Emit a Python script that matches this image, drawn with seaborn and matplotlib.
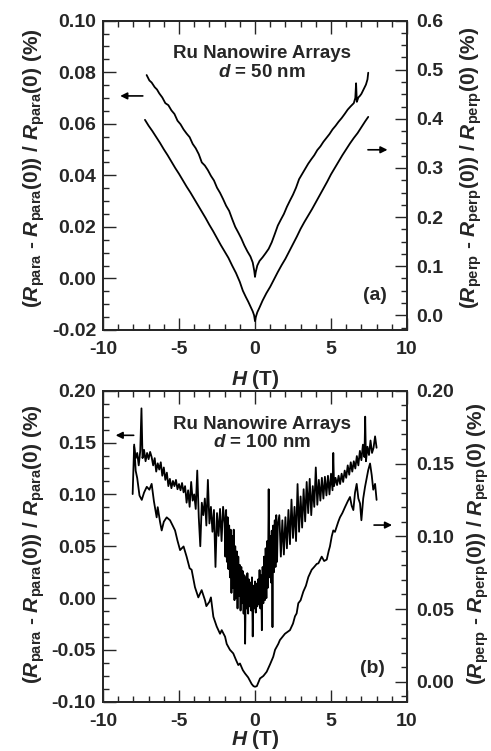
"""
Magnetoresistance of Ru nanowire arrays, d = 50 nm and d = 100 nm.
"""

import matplotlib
matplotlib.use("Agg")
import matplotlib.pyplot as plt
from matplotlib.ticker import MultipleLocator, FormatStrFormatter
import seaborn as sns

# ---- panel (a), d = 50 nm ----
a_para_h = [-7.13, -6.95, -6.8, -6.6, -6.45, -6.3, -6.1, -5.9, -5.7, -5.5, -5.3, -5.1,
            -4.9, -4.7, -4.5, -4.3, -4.1, -3.9, -3.7, -3.5, -3.3, -3.1, -2.9, -2.7, -2.5,
            -2.3, -2.1, -1.9, -1.7, -1.5, -1.3, -1.1, -0.9, -0.7, -0.5, -0.3, -0.15, -0.05,
            0.0, 0.05, 0.15, 0.3, 0.5, 0.7, 0.9, 1.1, 1.3, 1.5, 1.7, 1.9, 2.1, 2.3, 2.5,
            2.7, 2.9, 3.1, 3.3, 3.5, 3.7, 3.9, 4.1, 4.3, 4.5, 4.7, 4.9, 5.1, 5.3, 5.5, 5.7,
            5.9, 6.1, 6.3, 6.5, 6.6, 6.65, 6.7, 6.8, 6.9, 7.0, 7.1, 7.2, 7.3, 7.4, 7.45]
a_para_mr = [0.0789, 0.0768, 0.0760, 0.0742, 0.0733, 0.0718, 0.0702, 0.0680, 0.0672, 0.0652,
             0.0638, 0.0612, 0.0598, 0.0578, 0.0562, 0.0548, 0.0522, 0.0505, 0.0482, 0.0450,
             0.0438, 0.0420, 0.0398, 0.0380, 0.0352, 0.0332, 0.0308, 0.0282, 0.0262, 0.0230,
             0.0200, 0.0178, 0.0155, 0.0128, 0.0105, 0.0085, 0.0062, 0.0030, 0.0006, 0.0025,
             0.0050, 0.0068, 0.0082, 0.0098, 0.0115, 0.0140, 0.0172, 0.0205, 0.0228, 0.0250,
             0.0278, 0.0302, 0.0325, 0.0352, 0.0385, 0.0405, 0.0425, 0.0445, 0.0462, 0.0478,
             0.0498, 0.0512, 0.0530, 0.0545, 0.0560, 0.0578, 0.0592, 0.0608, 0.0622, 0.0638,
             0.0655, 0.0668, 0.0680, 0.0700, 0.0757, 0.0685, 0.0702, 0.0708, 0.0716, 0.0728,
             0.0740, 0.0752, 0.0772, 0.0798]

a_perp_h = [-7.24, -7.0, -6.75, -6.5, -6.25, -6.0, -5.75, -5.5, -5.25, -5.0, -4.75, -4.5,
            -4.25, -4.0, -3.75, -3.5, -3.25, -3.0, -2.75, -2.5, -2.25, -2.0, -1.75, -1.5,
            -1.25, -1.0, -0.8, -0.6, -0.45, -0.3, -0.15, -0.06, 0.0, 0.06, 0.15, 0.3, 0.5,
            0.75, 1.0, 1.25, 1.5, 1.75, 2.0, 2.25, 2.5, 2.75, 3.0, 3.25, 3.5, 3.75, 4.0,
            4.25, 4.5, 4.75, 5.0, 5.25, 5.5, 5.75, 6.0, 6.25, 6.5, 6.75, 7.0, 7.25, 7.45]
a_perp_mr = [0.398, 0.386, 0.375, 0.363, 0.351, 0.338, 0.326, 0.313, 0.300, 0.288, 0.275,
             0.262, 0.250, 0.237, 0.224, 0.211, 0.198, 0.184, 0.171, 0.157, 0.143, 0.130,
             0.117, 0.101, 0.086, 0.068, 0.050, 0.037, 0.028, 0.018, 0.008, 0.000, -0.012,
             -0.003, 0.006, 0.016, 0.030, 0.045, 0.058, 0.073, 0.088, 0.102, 0.115, 0.130,
             0.145, 0.160, 0.176, 0.190, 0.203, 0.216, 0.230, 0.244, 0.258, 0.272, 0.287,
             0.300, 0.313, 0.326, 0.338, 0.350, 0.361, 0.371, 0.383, 0.395, 0.404]

# ---- panel (b), d = 100 nm ----
b_para_h = [-7.95, -7.85, -7.75, -7.65, -7.55, -7.47, -7.4, -7.3, -7.2, -7.1, -7.0, -6.9,
            -6.8, -6.7, -6.6, -6.5, -6.4, -6.3, -6.2, -6.1, -6.0, -5.9, -5.8, -5.7, -5.6,
            -5.5, -5.4, -5.3, -5.2, -5.1, -5.0, -4.9, -4.8, -4.7, -4.6, -4.5, -4.4, -4.3,
            -4.2, -4.1, -4.0, -3.9, -3.8, -3.7, -3.6, -3.5, -3.4, -3.3, -3.2, -3.1, -3.0,
            -2.9, -2.8, -2.7, -2.6, -2.5, -2.4, -2.3, -2.2, -2.1,
            -2.0, -1.95, -1.9, -1.85, -1.8, -1.75, -1.7, -1.65, -1.6, -1.55, -1.5, -1.45,
            -1.4, -1.35, -1.3, -1.25, -1.2, -1.15, -1.1, -1.05, -1.0, -0.95, -0.9, -0.85,
            -0.8, -0.75, -0.7, -0.65, -0.6, -0.55, -0.5, -0.45, -0.4, -0.35, -0.3, -0.25,
            -0.2, -0.15, -0.1, -0.05, 0.0, 0.05, 0.1, 0.15, 0.2, 0.25, 0.3, 0.35, 0.4, 0.45,
            0.5, 0.55, 0.6, 0.65, 0.7, 0.75, 0.8, 0.85, 0.9, 0.95, 1.0, 1.05, 1.1, 1.15,
            1.2, 1.25, 1.3, 1.35, 1.4, 1.45, 1.5,
            1.6, 1.7, 1.8, 1.9, 2.0, 2.1, 2.2, 2.3, 2.4, 2.5, 2.6, 2.7, 2.8, 2.9, 3.0, 3.1,
            3.2, 3.3, 3.4, 3.5, 3.6, 3.7, 3.8, 3.9, 4.0, 4.1, 4.2, 4.3, 4.4, 4.5, 4.6, 4.7,
            4.8, 4.9, 5.0, 5.1, 5.15, 5.2, 5.3, 5.4, 5.5, 5.6, 5.7, 5.8, 5.9, 6.0, 6.1, 6.2,
            6.3, 6.4, 6.5, 6.6, 6.7, 6.8, 6.9, 7.0, 7.1, 7.2, 7.25, 7.3, 7.4, 7.5, 7.6, 7.7,
            7.8, 7.9, 8.0]
b_para_mr = [0.146, 0.135, 0.140, 0.128, 0.142, 0.183, 0.135, 0.143, 0.132, 0.140, 0.134,
             0.141, 0.136, 0.128, 0.135, 0.122, 0.130, 0.124, 0.131, 0.118, 0.126, 0.114,
             0.121, 0.108, 0.115, 0.106, 0.113, 0.108, 0.114, 0.105, 0.110, 0.104, 0.111,
             0.102, 0.108, 0.092, 0.104, 0.088, 0.112, 0.094, 0.100, 0.086, 0.123, 0.078,
             0.050, 0.092, 0.080, 0.096, 0.070, 0.114, 0.072, 0.088, 0.064, 0.085, 0.030,
             0.082, 0.060, 0.086, 0.055, 0.088,
             0.072, 0.040, 0.085, 0.035, 0.078, 0.028, 0.070, 0.020, 0.066, 0.005, 0.060,
             0.010, 0.066, -0.002, 0.050, 0.000, 0.045, -0.010, 0.040, 0.002, 0.032, -0.012,
             0.030, -0.005, 0.026, -0.015, 0.022, -0.044, 0.020, -0.010, 0.024, -0.015,
             0.018, -0.008, 0.015, -0.012, 0.020, -0.037, 0.012, -0.010, 0.016, -0.014,
             0.014, -0.008, 0.018, -0.006, 0.027, -0.010, 0.022, -0.031, 0.030, -0.005,
             0.040, -0.002, 0.048, 0.000, 0.055, 0.010, 0.105, 0.020, 0.060, 0.015, 0.065,
             -0.028, 0.070, 0.025, 0.075, 0.030, 0.080, 0.035, 0.070,
             0.080, 0.040, 0.075, 0.042, 0.078, 0.048, 0.085, 0.052, 0.095, 0.058, 0.088,
             0.055, 0.110, 0.064, 0.098, 0.068, 0.105, 0.074, 0.112, 0.082, 0.115, 0.080,
             0.108, 0.088, 0.126, 0.090, 0.114, 0.094, 0.116, 0.096, 0.117, 0.099, 0.118,
             0.100, 0.120, 0.104, 0.140, 0.108, 0.116, 0.109, 0.118, 0.110, 0.120, 0.112,
             0.123, 0.116, 0.128, 0.119, 0.131, 0.122, 0.132, 0.125, 0.137, 0.128, 0.142,
             0.133, 0.148, 0.136, 0.175, 0.132, 0.146, 0.138, 0.152, 0.140, 0.145, 0.156,
             0.145]

b_perp_h = [-8.05, -7.95, -7.85, -7.75, -7.6, -7.45, -7.3, -7.12, -6.95, -6.8, -6.65, -6.47,
            -6.4, -6.25, -6.14, -6.0, -5.81, -5.59, -5.4, -5.26, -5.1, -4.93, -4.7, -4.5,
            -4.3, -4.17, -3.95, -3.73, -3.51, -3.29, -3.2, -3.0, -2.9, -2.74, -2.52, -2.3,
            -2.19, -1.97, -1.86, -1.65, -1.43, -1.25, -1.1, -0.99, -0.8, -0.66, -0.45, -0.22,
            -0.1, 0.0, 0.12, 0.33, 0.55, 0.77, 0.99, 1.2, 1.32, 1.53, 1.64, 1.97, 2.3, 2.5,
            2.63, 2.74, 2.85, 3.0, 3.18, 3.35, 3.51, 3.62, 3.73, 3.9, 4.06, 4.17, 4.39, 4.55,
            4.72, 4.85, 4.93, 5.05, 5.15, 5.26, 5.37, 5.48, 5.59, 5.75, 5.92, 6.1, 6.25,
            6.36, 6.47, 6.58, 6.69, 6.8, 6.91, 7.0, 7.12, 7.24, 7.35, 7.45, 7.57, 7.68, 7.78,
            7.9, 8.0]
b_perp_mr = [0.129, 0.163, 0.145, 0.140, 0.128, 0.125, 0.130, 0.134, 0.132, 0.136, 0.124,
             0.113, 0.120, 0.110, 0.104, 0.110, 0.113, 0.111, 0.107, 0.104, 0.097, 0.0905,
             0.093, 0.086, 0.078, 0.077, 0.065, 0.058, 0.063, 0.056, 0.052, 0.055, 0.058,
             0.0447, 0.038, 0.033, 0.0355, 0.031, 0.026, 0.022, 0.0195, 0.015, 0.0115, 0.0126,
             0.008, 0.0058, 0.003, -0.0015, -0.003, -0.0034, -0.003, 0.0023, 0.004, 0.0069,
             0.012, 0.0172, 0.022, 0.026, 0.0287, 0.033, 0.0355, 0.040, 0.045, 0.047, 0.054,
             0.056, 0.062, 0.066, 0.072, 0.0745, 0.077, 0.079, 0.081, 0.0814, 0.086, 0.083,
             0.084, 0.090, 0.093, 0.100, 0.104, 0.103, 0.1065, 0.110, 0.113, 0.116, 0.120,
             0.124, 0.127, 0.121, 0.118, 0.130, 0.136, 0.126, 0.1226, 0.111, 0.126, 0.134,
             0.140, 0.1455, 0.150, 0.142, 0.132, 0.136, 0.125]

sns.set_style("ticks")
plt.rcParams["font.family"] = ["Liberation Sans", "DejaVu Sans"]
plt.rcParams["font.weight"] = "bold"
plt.rcParams["axes.labelweight"] = "bold"
plt.rcParams["axes.unicode_minus"] = False
plt.rcParams["mathtext.fontset"] = "custom"
plt.rcParams["mathtext.rm"] = "Liberation Sans:bold"
plt.rcParams["mathtext.bf"] = "Liberation Sans:bold"
plt.rcParams["mathtext.it"] = "Liberation Sans:italic:bold"

FS = 14
LFS = 15
LW = 1.3

fig = plt.figure(figsize=(4.91, 7.51), dpi=100)
ax_a = fig.add_axes([0.2098, 0.5606, 0.6191, 0.4119])
ax_b = fig.add_axes([0.2098, 0.0656, 0.6191, 0.4141])

para_lbl = (r"($\mathit{R}_{\rm para}$ - $\mathit{R}_{\rm para}$(0)) / "
            r"$\mathit{R}_{\rm para}$(0) (%)")
perp_lbl = (r"($\mathit{R}_{\rm perp}$ - $\mathit{R}_{\rm perp}$(0)) / "
            r"$\mathit{R}_{\rm perp}$(0) (%)")


def style_axes(ax, ax2, ylim1, ylim2, maj1, min1, maj2, min2, fmt1, fmt2):
    ax.set_xlim(-10, 10)
    ax.set_ylim(*ylim1)
    ax2.set_ylim(*ylim2)
    ax.xaxis.set_major_locator(MultipleLocator(5))
    ax.xaxis.set_minor_locator(MultipleLocator(1))
    ax.xaxis.set_major_formatter(FormatStrFormatter("%d"))
    ax.yaxis.set_major_locator(MultipleLocator(maj1))
    ax.yaxis.set_minor_locator(MultipleLocator(min1))
    ax.yaxis.set_major_formatter(FormatStrFormatter(fmt1))
    ax2.yaxis.set_major_locator(MultipleLocator(maj2))
    ax2.yaxis.set_minor_locator(MultipleLocator(min2))
    ax2.yaxis.set_major_formatter(FormatStrFormatter(fmt2))
    ax.tick_params(which="both", direction="in", top=True, right=False, width=1.0,
                   labelsize=FS)
    ax.tick_params(which="major", length=9)
    ax.tick_params(which="minor", length=4.5)
    ax.tick_params(axis="x", pad=8)
    ax.tick_params(axis="y", pad=5)
    ax2.tick_params(which="both", direction="in", right=True, width=1.0, labelsize=FS,
                    pad=7)
    ax2.tick_params(which="major", length=9)
    ax2.tick_params(which="minor", length=4.5)
    for sp in ax.spines.values():
        sp.set_linewidth(LW)
    for sp in ax2.spines.values():
        sp.set_linewidth(LW)
    ax.set_ylabel(para_lbl, fontsize=LFS)
    ax2.set_ylabel(perp_lbl, fontsize=LFS)
    ax.set_xlabel(r"$\mathit{H}$ (T)", fontsize=LFS)


arrow = dict(arrowstyle="-|>", color="black", lw=1.2, mutation_scale=10)

# panel (a)
ax_a2 = ax_a.twinx()
sns.lineplot(x=a_para_h, y=a_para_mr, ax=ax_a, color="black", linewidth=LW,
             estimator=None, sort=False)
sns.lineplot(x=a_perp_h, y=a_perp_mr, ax=ax_a2, color="black", linewidth=LW,
             estimator=None, sort=False)
style_axes(ax_a, ax_a2, (-0.02, 0.10), (-0.03, 0.6), 0.02, 0.005, 0.1, 0.025,
           "%.2f", "%.1f")
ax_a.yaxis.set_label_coords(-0.184, 0.524)
ax_a2.yaxis.set_label_coords(1.168, 0.525)
ax_a.xaxis.set_label_coords(0.5, -0.123)
ax_a.text(0.523, 0.863, "Ru Nanowire Arrays\n" + r"$\mathit{d}$ = 50 nm",
          transform=ax_a.transAxes, ha="center", va="center", fontsize=13.5,
          linespacing=1.1)
ax_a.text(0.895, 0.113, "(a)", transform=ax_a.transAxes, ha="center", va="center",
          fontsize=FS)
ax_a.annotate("", xy=(-9.05, 0.0708), xytext=(-7.2, 0.0708), arrowprops=arrow)
ax_a2.annotate("", xy=(8.9, 0.337), xytext=(7.25, 0.337), arrowprops=arrow)

# panel (b)
ax_b2 = ax_b.twinx()
sns.lineplot(x=b_para_h, y=b_para_mr, ax=ax_b, color="black", linewidth=LW,
             estimator=None, sort=False)
sns.lineplot(x=b_perp_h, y=b_perp_mr, ax=ax_b2, color="black", linewidth=LW,
             estimator=None, sort=False)
style_axes(ax_b, ax_b2, (-0.10, 0.20), (-0.0137, 0.20), 0.05, 0.0125, 0.05, 0.01,
           "%.2f", "%.2f")
ax_b.yaxis.set_label_coords(-0.184, 0.507)
ax_b2.yaxis.set_label_coords(1.191, 0.507)
ax_b.xaxis.set_label_coords(0.5, -0.086)
ax_b.text(0.523, 0.863, "Ru Nanowire Arrays\n" + r"$\mathit{d}$ = 100 nm",
          transform=ax_b.transAxes, ha="center", va="center", fontsize=13.5,
          linespacing=1.1)
ax_b.text(0.885, 0.108, "(b)", transform=ax_b.transAxes, ha="center", va="center",
          fontsize=FS)
ax_b.annotate("", xy=(-9.35, 0.157), xytext=(-7.8, 0.157), arrowprops=arrow)
ax_b2.annotate("", xy=(9.2, 0.1077), xytext=(7.65, 0.1077), arrowprops=arrow)

fig.savefig("out.png", dpi=100)
